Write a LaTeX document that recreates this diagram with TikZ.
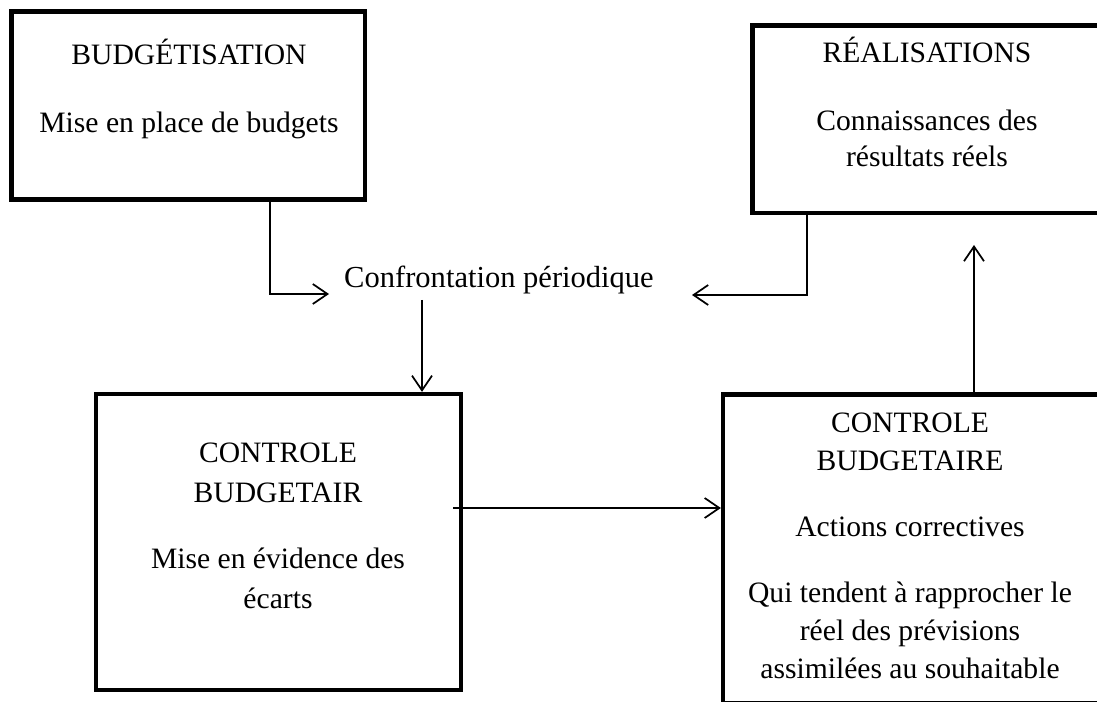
\documentclass[tikz,border=0pt]{standalone}
\usepackage{fontspec}
\setmainfont{Liberation Serif}
\usetikzlibrary{arrows.meta}

\tikzset{
  box/.style={draw=black, line width=3.2pt, inner sep=0pt, fill=none},
  label/.style={anchor=base, inner sep=0pt, font=\fontsize{22.2}{28}\selectfont},
  biglabel/.style={label, font=\fontsize{22.9}{28}\selectfont},
  conn/.style={draw=black, line width=1.3pt, -{Straight Barb[length=11pt,width=15pt,line width=1.3pt]}},
}

\begin{document}
\begin{tikzpicture}[x=0.75pt, y=-0.75pt]
  \useasboundingbox (0,0) rectangle (1097,702);
  \fill[white] (0,0) rectangle (1097,702);
  \clip (0,0) rectangle (1097,702);

  % frames
  \node[box, minimum width=265.1pt, minimum height=141pt]   (b1) at (188.25,105.5)  {};
  \node[box, minimum width=262.1pt, minimum height=140.6pt] (b2) at (927.25,119.25) {};
  \node[box, minimum width=273.75pt, minimum height=222pt]  (b3) at (278.5,542)     {};
  \node[box, minimum width=282.75pt, minimum height=231.4pt](b4) at (911.5,548.75)  {};

  % texts of the frames
  \node[label] (t1a) at (189,65)  {BUDGÉTISATION};
  \node[label] (t1b) at (189,133) {Mise en place de budgets};

  \node[label] (t2a) at (927,63)  {RÉALISATIONS};
  \node[label] (t2b) at (927,131) {Connaissances des};
  \node[label] (t2c) at (927,167) {résultats réels};

  \node[label] (t3a) at (278,463) {CONTROLE};
  \node[label] (t3b) at (278,503) {BUDGETAIR};
  \node[label] (t3c) at (278,568) {Mise en évidence des};
  \node[label] (t3d) at (278,608) {écarts};

  \node[label] (t4a) at (910,433) {CONTROLE};
  \node[label] (t4b) at (910,470) {BUDGETAIRE};
  \node[label] (t4c) at (910,537) {Actions correctives};
  \node[label] (t4d) at (910,602) {Qui tendent à rapprocher le};
  \node[label] (t4e) at (910,640) {réel des prévisions};
  \node[label] (t4f) at (910,678) {assimilées au souhaitable};

  % central label
  \node[biglabel] (cf) at (499,288) {Confrontation périodique};

  % free ends of the connectors
  \coordinate (in1)  at (329,294);
  \coordinate (in2)  at (692,295);
  \coordinate (out3) at (422,300);
  \coordinate (out4) at (453,508);
  \coordinate (in5)  at (974,245);

  % connectors
  \draw[conn] (270,0 |- b1.south) |- (in1);
  \draw[conn] (807,0 |- b2.south) |- (in2);
  \draw[conn] (out3) -- (out3 |- b3.north);
  \draw[conn] (out4) -- (out4 -| b4.west);
  \draw[conn] (in5 |- b4.north) -- (in5);
\end{tikzpicture}
\end{document}
